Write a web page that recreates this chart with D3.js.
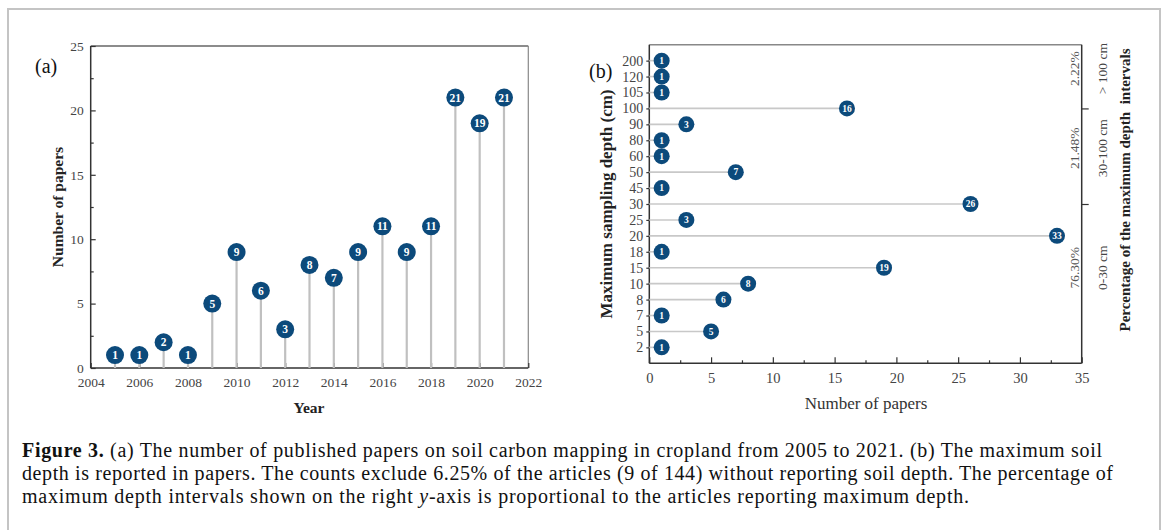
<!DOCTYPE html>
<html>
<head>
<meta charset="utf-8">
<script src="https://cdn.jsdelivr.net/npm/d3@7/dist/d3.min.js"></script>
<style>
    body { margin: 0; background: #fff; }
    svg { display: block; font-family: "Liberation Serif", "Times New Roman", serif; }
</style>
</head>
<body>
<svg id="fig" width="1167" height="530"></svg>
<script>
// (a) papers per year
var years = [2005, 2006, 2007, 2008, 2009, 2010, 2011, 2012, 2013, 2014, 2015, 2016, 2017, 2018, 2019, 2020, 2021];
var paperCounts = [1, 1, 2, 1, 5, 9, 6, 3, 8, 7, 9, 11, 9, 11, 21, 19, 21];
var yearTicks = [2004, 2006, 2008, 2010, 2012, 2014, 2016, 2018, 2020, 2022];
var countTicks = [0, 5, 10, 15, 20, 25];

// (b) maximum sampling depth
var depthLabels = ["200", "120", "105", "100", "90", "80", "60", "50", "45", "30", "25", "20", "18", "15", "10", "8", "7", "5", "2"];
var depthCounts = [1, 1, 1, 16, 3, 1, 1, 7, 1, 26, 3, 33, 1, 19, 8, 6, 1, 5, 1];
var paperTicks = [0, 5, 10, 15, 20, 25, 30, 35];
var intervalLabels = ["> 100 cm", "30-100 cm", "0-30 cm"];
var intervalPercents = ["2.22%", "21.48%", "76.30%"];
var intervalBounds = ["100", "30"];

var captionLines = [
    [["Figure 3.", "bold"], [" (a) The number of published papers on soil carbon mapping in cropland from 2005 to 2021. (b) The maximum soil", ""]],
    [["depth is reported in papers. The counts exclude 6.25% of the articles (9 of 144) without reporting soil depth. The percentage of", ""]],
    [["maximum depth intervals shown on the right ", ""], ["y", "italic"], ["-axis is proportional to the articles reporting maximum depth.", ""]]
];

var svg = d3.select("#fig"),
    dotColor = "#0c4a7b",
    stemColor = "#c0c0c0",
    axisColor = "#333",
    labelColor = "#444";

// outer frame (open at the bottom)
svg.append("path")
    .attr("d", "M8,540 V9 H1160 V540")
    .attr("fill", "none")
    .attr("stroke", "#c4c4c4")
    .attr("stroke-width", 2);

function styleAxis(g, size) {
    g.select(".domain").remove();
    g.selectAll("line").attr("stroke", axisColor).attr("stroke-width", 1.2);
    g.selectAll("text")
        .attr("font-family", "Liberation Serif, serif")
        .attr("font-size", size)
        .attr("fill", labelColor);
}

// ---------- (a) ----------
var xA = d3.scaleLinear().domain([2004, 2022]).range([90.7, 528.3]),
    yA = d3.scaleLinear().domain([0, 25]).range([368, 46]);

var gA = svg.append("g");

gA.append("line")
    .attr("x1", xA(2004)).attr("x2", xA(2022)).attr("y1", yA(25)).attr("y2", yA(25))
    .attr("stroke", "#666").attr("stroke-width", 1.5);
gA.append("line")
    .attr("x1", xA(2022)).attr("x2", xA(2022)).attr("y1", yA(25)).attr("y2", yA(0))
    .attr("stroke", "#888").attr("stroke-width", 1.2);

gA.append("g")
    .attr("transform", "translate(" + xA(2004) + ",0)")
    .call(d3.axisLeft(yA).tickValues(countTicks.slice(0, 5).map(function (d) { return d + 2.5; })).tickSize(-3).tickFormat(""))
    .call(styleAxis, 13);
gA.append("g")
    .attr("transform", "translate(" + xA(2004) + ",0)")
    .call(d3.axisLeft(yA).tickValues(countTicks).tickSize(-5).tickPadding(7))
    .call(styleAxis, 13.5);
gA.append("g")
    .attr("transform", "translate(0," + yA(0) + ")")
    .call(d3.axisBottom(xA).tickValues(yearTicks).tickSize(-5).tickPadding(9).tickFormat(d3.format("d")))
    .call(styleAxis, 13.5);

gA.append("line")
    .attr("x1", xA(2004)).attr("x2", xA(2004)).attr("y1", yA(25)).attr("y2", yA(0))
    .attr("stroke", axisColor).attr("stroke-width", 1.5);
gA.append("line")
    .attr("x1", xA(2004)).attr("x2", xA(2022)).attr("y1", yA(0)).attr("y2", yA(0))
    .attr("stroke", axisColor).attr("stroke-width", 1.5);

var ptsA = gA.selectAll("g.pt")
    .data(years)
    .enter()
    .append("g")
    .attr("class", "pt");

ptsA.append("line")
    .attr("x1", function (d) { return xA(d); })
    .attr("x2", function (d) { return xA(d); })
    .attr("y1", yA(0))
    .attr("y2", function (d, i) { return yA(paperCounts[i]); })
    .attr("stroke", stemColor)
    .attr("stroke-width", 2.2);
ptsA.append("circle")
    .attr("cx", function (d) { return xA(d); })
    .attr("cy", function (d, i) { return yA(paperCounts[i]); })
    .attr("r", 9)
    .attr("fill", dotColor);
ptsA.append("text")
    .text(function (d, i) { return paperCounts[i]; })
    .attr("x", function (d) { return xA(d); })
    .attr("y", function (d, i) { return yA(paperCounts[i]); })
    .attr("dy", "0.35em")
    .attr("text-anchor", "middle")
    .attr("font-size", 11.5)
    .attr("font-weight", "bold")
    .attr("fill", "#fff");

gA.append("text")
    .text("Number of papers")
    .attr("transform", "translate(58,207) rotate(-90)")
    .attr("text-anchor", "middle")
    .attr("dy", "0.35em")
    .attr("font-size", 15.5)
    .attr("font-weight", "bold")
    .attr("fill", "#222");
gA.append("text")
    .text("Year")
    .attr("x", 309).attr("y", 408)
    .attr("dy", "0.35em")
    .attr("text-anchor", "middle")
    .attr("font-size", 15.5)
    .attr("font-weight", "bold")
    .attr("fill", "#222");
gA.append("text")
    .text("(a)")
    .attr("x", 35).attr("y", 73)
    .attr("font-size", 20)
    .attr("fill", "#111");

// ---------- (b) ----------
var xB = d3.scaleLinear().domain([0, 35]).range([649.3, 1081.7]),
    yB = d3.scalePoint().domain(depthLabels).range([44.7, 363.3]).padding(1);

var gB = svg.append("g");

gB.append("line")
    .attr("x1", xB(0)).attr("x2", xB(35)).attr("y1", 44.7).attr("y2", 44.7)
    .attr("stroke", "#888").attr("stroke-width", 1.5);

gB.append("g")
    .attr("transform", "translate(" + xB(0) + ",0)")
    .call(d3.axisLeft(yB).tickSize(3).tickPadding(3))
    .call(styleAxis, 14);
gB.append("g")
    .attr("transform", "translate(0,363.3)")
    .call(d3.axisBottom(xB).tickValues(paperTicks.slice(0, 7).map(function (d) { return d + 2.5; })).tickSize(-3).tickFormat(""))
    .call(styleAxis, 14);
gB.append("g")
    .attr("transform", "translate(0,363.3)")
    .call(d3.axisBottom(xB).tickValues(paperTicks).tickSize(-6).tickPadding(9))
    .call(styleAxis, 14.5);
gB.append("g")
    .attr("transform", "translate(" + xB(35) + ",0)")
    .call(d3.axisRight(yB).tickValues(intervalBounds).tickSize(7).tickFormat(""))
    .call(styleAxis, 13);

gB.append("line")
    .attr("x1", xB(0)).attr("x2", xB(0)).attr("y1", 44.7).attr("y2", 363.3)
    .attr("stroke", axisColor).attr("stroke-width", 1.5);
gB.append("line")
    .attr("x1", xB(35)).attr("x2", xB(35)).attr("y1", 44.7).attr("y2", 363.3)
    .attr("stroke", axisColor).attr("stroke-width", 1.5);
gB.append("line")
    .attr("x1", xB(0)).attr("x2", xB(35)).attr("y1", 363.3).attr("y2", 363.3)
    .attr("stroke", axisColor).attr("stroke-width", 1.5);

var ptsB = gB.selectAll("g.pt")
    .data(depthLabels)
    .enter()
    .append("g")
    .attr("class", "pt");

ptsB.append("line")
    .attr("x1", xB(0))
    .attr("x2", function (d, i) { return xB(depthCounts[i]); })
    .attr("y1", function (d) { return yB(d); })
    .attr("y2", function (d) { return yB(d); })
    .attr("stroke", "#c8c8c8")
    .attr("stroke-width", 1.6);
ptsB.append("circle")
    .attr("cx", function (d, i) { return xB(depthCounts[i]); })
    .attr("cy", function (d) { return yB(d); })
    .attr("r", 8)
    .attr("fill", dotColor);
ptsB.append("text")
    .text(function (d, i) { return depthCounts[i]; })
    .attr("x", function (d, i) { return xB(depthCounts[i]); })
    .attr("y", function (d) { return yB(d); })
    .attr("dy", "0.35em")
    .attr("text-anchor", "middle")
    .attr("font-size", 9.5)
    .attr("font-weight", "bold")
    .attr("fill", "#fff");

// interval labels sit at these spots along the right axis
var intervalY = [
    (yB("200") + yB("120")) / 2,
    (yB("80") + yB("60")) / 2,
    yB("15")
];

gB.selectAll("text.pct")
    .data(intervalPercents)
    .enter()
    .append("text")
    .attr("class", "pct")
    .text(function (d) { return d; })
    .attr("transform", function (d, i) { return "translate(1074," + intervalY[i] + ") rotate(-90)"; })
    .attr("dy", "0.35em")
    .attr("text-anchor", "middle")
    .attr("font-size", 13.5)
    .attr("fill", "#555");

gB.selectAll("text.intv")
    .data(intervalLabels)
    .enter()
    .append("text")
    .attr("class", "intv")
    .text(function (d) { return d; })
    .attr("transform", function (d, i) { return "translate(1102," + intervalY[i] + ") rotate(-90)"; })
    .attr("dy", "0.35em")
    .attr("text-anchor", "middle")
    .attr("font-size", 13.5)
    .attr("fill", "#444");

gB.append("text")
    .text("Percentage of the maximum depth  intervals")
    .style("white-space", "pre")
    .attr("transform", "translate(1125,190) rotate(-90)")
    .attr("dy", "0.35em")
    .attr("text-anchor", "middle")
    .attr("font-size", 15)
    .attr("font-weight", "bold")
    .attr("fill", "#222");

gB.append("text")
    .text("Maximum sampling depth (cm)")
    .attr("transform", "translate(606,204) rotate(-90)")
    .attr("dy", "0.35em")
    .attr("text-anchor", "middle")
    .attr("font-size", 17)
    .attr("font-weight", "bold")
    .attr("fill", "#222");

gB.append("text")
    .text("Number of papers")
    .attr("x", 866).attr("y", 403)
    .attr("dy", "0.35em")
    .attr("text-anchor", "middle")
    .attr("font-size", 17)
    .attr("fill", "#333");

gB.append("text")
    .text("(b)")
    .attr("x", 589).attr("y", 78)
    .attr("font-size", 20)
    .attr("fill", "#111");

// ---------- caption ----------
var capBase = [457, 480, 503],
    capLen = [1080, 1091, 947];

captionLines.forEach(function (parts, li) {
    var t = svg.append("text")
        .attr("x", 22)
        .attr("y", capBase[li])
        .attr("font-size", 20)
        .attr("fill", "#111")
        .attr("textLength", capLen[li])
        .attr("lengthAdjust", "spacing")
        .style("white-space", "pre");
    parts.forEach(function (p) {
        var ts = t.append("tspan").text(p[0]);
        if (p[1] === "bold") ts.attr("font-weight", "bold");
        if (p[1] === "italic") ts.attr("font-style", "italic");
    });
});
</script>
</body>
</html>
